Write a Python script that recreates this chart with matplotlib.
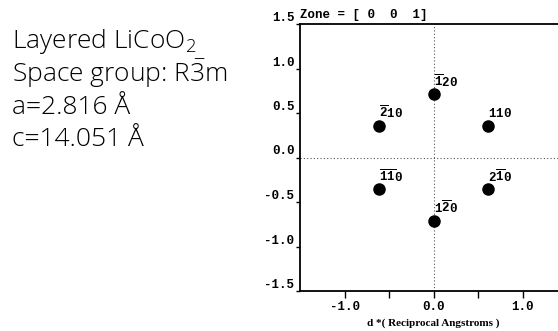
"""Electron diffraction zone pattern for layered LiCoO2, [001] zone."""

import matplotlib
matplotlib.use("Agg")
import matplotlib.pyplot as plt

plt.rcParams["mathtext.fontset"] = "custom"
plt.rcParams["mathtext.rm"] = "Liberation Mono:bold"
plt.rcParams["mathtext.sf"] = "Open Sans:light"

# reflections (reciprocal Angstroms)
spot_x = [0.0, -0.615, 0.615, -0.615, 0.615, 0.0]
spot_y = [0.71, 0.355, 0.355, -0.355, -0.355, -0.71]
spot_labels = [
    r"$\mathrm{\overline{1}20}$",
    r"$\mathrm{\overline{2}10}$",
    r"$\mathrm{110}$",
    r"$\mathrm{\overline{1}\overline{1}0}$",
    r"$\mathrm{2\overline{1}0}$",
    r"$\mathrm{1\overline{2}0}$",
]

y_ticks = [-1.5, -1.0, -0.5, 0.0, 0.5, 1.0, 1.5]
x_major = [-1.0, 0.0, 1.0]
x_minor = [-0.5, 0.5]

info_lines = [
    r"Layered LiCoO$_\mathsf{2}$",
    r"Space group: R$\mathsf{\bar{3}}$m",
    "a=2.816 Å",
    "c=14.051 Å",
]

W, H = 558, 331
fig = plt.figure(figsize=(W / 100, H / 100), dpi=100)
ax = fig.add_axes([300 / W, 40 / H, 267 / W, 267 / H])

ax.set_xlim(-1.5, 1.5)
ax.set_ylim(-1.5, 1.5)

# dotted cross through origin
ax.axhline(0, color="#555555", linestyle=(0, (1, 2)), linewidth=0.8, zorder=1)
ax.axvline(0, color="#555555", linestyle=(0, (1, 2)), linewidth=0.8, zorder=1)

ax.plot(spot_x, spot_y, "o", color="black", markersize=8, zorder=3)
for x, y, lbl in zip(spot_x, spot_y, spot_labels):
    ax.text(x, y + 0.14, lbl, fontsize=9, ha="left", va="center", zorder=4)

for side in ("left", "top", "bottom"):
    ax.spines[side].set_linewidth(1.3)
ax.spines["right"].set_visible(False)

mono = {"family": "Liberation Mono", "weight": "bold", "size": 9}
ax.set_yticks(y_ticks)
ax.set_yticklabels([f"{v:.1f}" for v in y_ticks], fontdict=mono)
for t in ax.get_yticklabels():
    t.set_verticalalignment("bottom")
ax.set_xticks(x_major)
ax.set_xticklabels([f"{v:.1f}" for v in x_major], fontdict=mono)
ax.set_xticks(x_minor, minor=True)
ax.tick_params(axis="y", direction="out", length=3, width=1, pad=1)
ax.tick_params(axis="x", which="both", direction="out", length=5, width=1, pad=2)

ax.set_xlabel("d *( Reciprocal Angstroms )", family="Liberation Serif",
              weight="bold", size=8, labelpad=4)

fig.text(300 / W, 1 - 15 / H, "Zone = [ 0  0  1]", family="Liberation Mono",
         weight="bold", size=9, ha="left", va="center")

baselines = [48, 82, 114, 146]
for yb, line in zip(baselines, info_lines):
    fig.text(12 / W, 1 - yb / H, line, family="Open Sans", weight="light",
             size=19, ha="left", va="baseline")

fig.savefig("out.png", dpi=100)
